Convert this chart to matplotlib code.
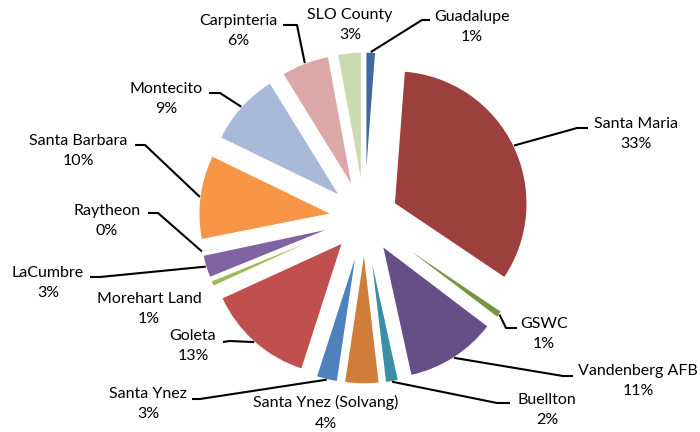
import matplotlib
matplotlib.use('Agg')
import matplotlib.pyplot as plt
import numpy as np

plt.rcParams['font.family'] = ['Lato', 'DejaVu Sans']

# slices, clockwise from 12 o'clock
names = ['Guadalupe', 'Santa Maria', 'GSWC', 'Vandenberg AFB', 'Buellton',
         'Santa Ynez (Solvang)', 'Santa Ynez', 'Goleta', 'Morehart Land',
         'LaCumbre', 'Raytheon', 'Santa Barbara', 'Montecito', 'Carpinteria',
         'SLO County']
shares = [1.2, 33.2, 0.9, 11.2, 1.6, 4.2, 2.6, 13.2, 0.7, 2.8, 0.2, 10.3,
          9.0, 5.9, 2.9]
colors = ['#41689F', '#9C403D', '#76953E', '#664F86', '#3A8FA3', '#D17D3A',
          '#4F81BD', '#C0504D', '#9BBB59', '#8064A2', '#4BACC6', '#F79646',
          '#A9B9D8', '#DCA9A8', '#CBDAB0']

# label layout in pixels (y from top): block centre, leader elbow, leader end
label_xy = [(472, 27), (636, 134), (544, 334), (638, 381), (547, 410),
            (326, 413), (148, 404), (193, 346), (149, 309), (48, 283),
            (107, 221), (78, 151), (166, 99), (238, 31), (350, 25)]
elbows = [(422, 20), (577, 128), (506, 328), (563, 376), (497, 403),
          None, (200, 399), (230, 341), None, (100, 277),
          (158, 213), (145, 145), (220, 93), (297, 25), None]
ends = [(430, 20), (588, 128), (517, 328), (573, 376), (510, 403),
        None, (192, 399), (223, 342), None, (90, 277),
        (148, 213), (135, 145), (209, 93), (283, 25), None]

H = 432
fig = plt.figure(figsize=(7, 4.32), dpi=100)
ax = fig.add_axes([0, 0, 1, 1])

wedges, _ = ax.pie(shares, colors=colors, startangle=90, counterclock=False,
                   explode=[33] * len(shares), radius=133,
                   center=(364.5, H - 218),
                   wedgeprops=dict(edgecolor='white', linewidth=1))
ax.set_xlim(0, 700)
ax.set_ylim(0, H)
ax.set_aspect('equal')
ax.axis('off')

total = sum(shares)
for w, name, v, (lx, ly), el, en in zip(wedges, names, shares, label_xy,
                                         elbows, ends):
    pct = round(v / total * 100)
    ax.text(lx, H - ly, '%s\n%d%%' % (name, pct), ha='center', va='center',
            fontsize=11.5, linespacing=1.58, color='black')
    if el is None:
        continue
    tm = np.radians((w.theta1 + w.theta2) / 2)
    sx = w.center[0] + w.r * np.cos(tm)
    sy = w.center[1] + w.r * np.sin(tm)
    ax.plot([sx, el[0], en[0]], [sy, H - el[1], H - en[1]],
            color='black', lw=1.5, solid_capstyle='butt')

plt.savefig('out.png', dpi=100)
plt.close()
